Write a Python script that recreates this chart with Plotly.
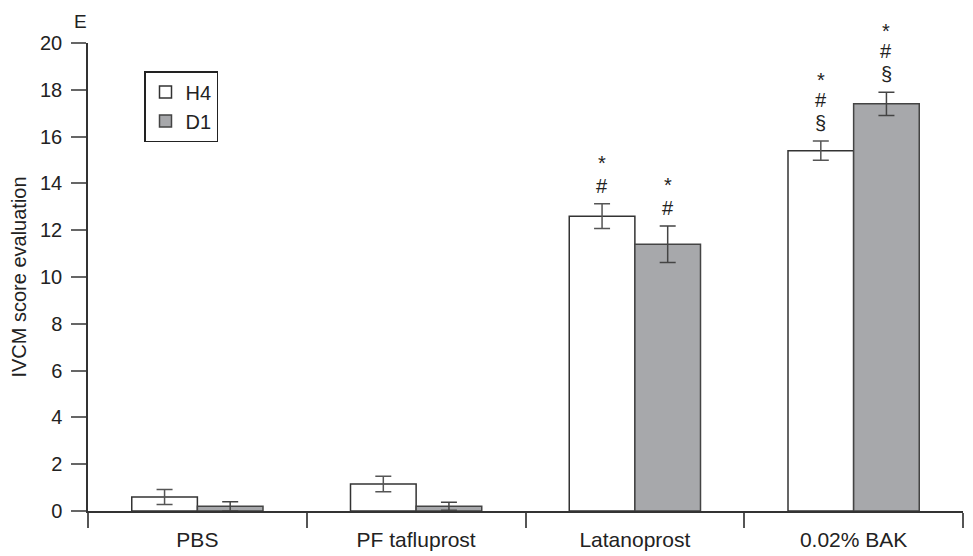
import plotly.graph_objects as go

categories = ["PBS", "PF tafluprost", "Latanoprost", "0.02% BAK"]
h4_values = [0.6, 1.15, 12.6, 15.4]
h4_errors = [0.32, 0.33, 0.53, 0.41]
d1_values = [0.2, 0.2, 11.4, 17.4]
d1_errors = [0.2, 0.17, 0.78, 0.5]
h4_marks = [[], [], ["#", "*"], ["§", "#", "*"]]
d1_marks = [[], [], ["#", "*"], ["§", "#", "*"]]
mark_offsets = [18, 41, 61]

FONT = "Liberation Sans, Arial, Helvetica, sans-serif"
fig = go.Figure()
fig.add_trace(go.Bar(
    x=categories, y=h4_values, name="H4",
    marker=dict(color="white", line=dict(color="#333333", width=1.5)),
    error_y=dict(type="data", array=h4_errors, color="#555555", thickness=1.5, width=8),
))
fig.add_trace(go.Bar(
    x=categories, y=d1_values, name="D1",
    marker=dict(color="#a7a8ab", line=dict(color="#444444", width=1.5)),
    error_y=dict(type="data", array=d1_errors, color="#444444", thickness=1.5, width=8),
))

annotations = []
for vals, errs, marks, shift in [(h4_values, h4_errors, h4_marks, -0.15),
                                  (d1_values, d1_errors, d1_marks, 0.15)]:
    for i, cat in enumerate(categories):
        for j, m in enumerate(marks[i]):
            annotations.append(dict(
                x=i + shift, y=vals[i] + errs[i], xref="x", yref="y",
                text=m, showarrow=False, yanchor="middle",
                yshift=mark_offsets[j], font=dict(size=20, color="#222222", family=FONT)))
annotations.append(dict(x=-0.009, y=1.045, xref="paper", yref="paper", text="E",
                        showarrow=False, xanchor="center", yanchor="middle",
                        font=dict(size=19, color="#222222", family=FONT)))

fig.update_layout(
    width=965, height=548,
    margin=dict(l=80, r=10, t=35, b=45),
    paper_bgcolor="white", plot_bgcolor="white",
    barmode="group", bargap=0.4, bargroupgap=0,
    font=dict(family=FONT, color="#222222", size=20),
    annotations=annotations,
    legend=dict(x=0.064, y=0.94, xanchor="left", yanchor="top",
                bordercolor="#222222", borderwidth=1.5, bgcolor="white",
                font=dict(size=20), itemwidth=30, tracegroupgap=0),
    xaxis=dict(showline=True, linecolor="#333333", linewidth=1.5,
               ticks="outside", ticklen=15, tickcolor="#555555", tickwidth=1.5,
               tickson="boundaries", tickfont=dict(size=21), showgrid=False,
               ticklabelstandoff=9,
               range=[-0.5, 3.5], automargin=False),
    yaxis=dict(range=[0, 20], dtick=2, showline=True, linecolor="#333333", linewidth=1.5,
               ticks="outside", ticklen=15, tickcolor="#666666", tickwidth=1.5,
               tickfont=dict(size=20), showgrid=False, zeroline=False, automargin=False,
               ticklabelstandoff=5,
               title=dict(text="IVCM score evaluation", font=dict(size=20), standoff=10)),
)
fig.write_html("out.html")
